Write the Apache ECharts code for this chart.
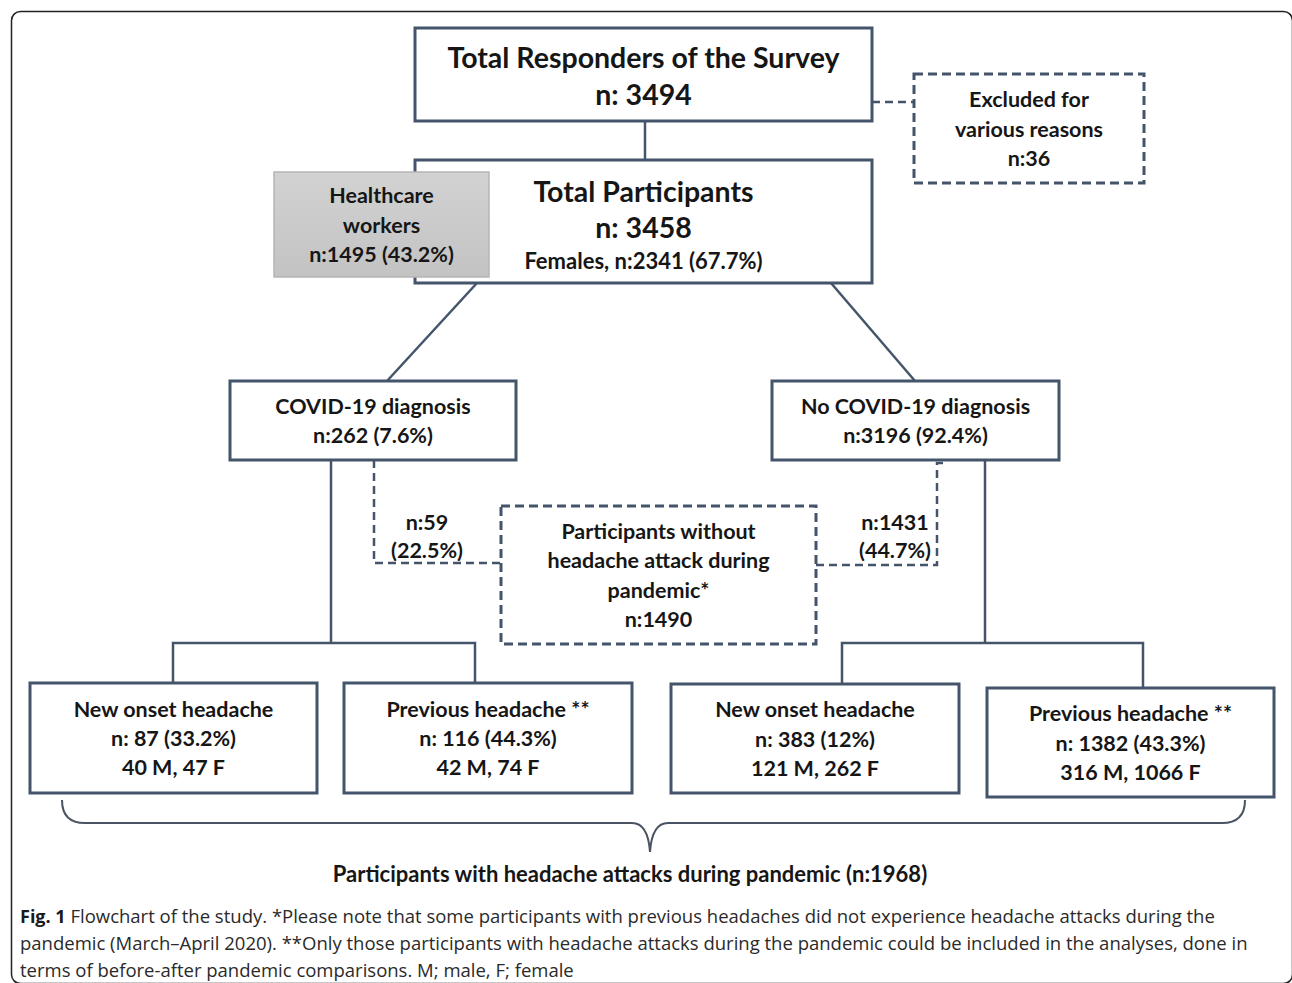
<!DOCTYPE html>
<html>
<head>
<meta charset="utf-8">
<title>Flowchart of the study</title>
<script src="https://cdn.jsdelivr.net/npm/echarts@6/dist/echarts.min.js"></script>
<style>
  html, body { margin: 0; padding: 0; background: #fff; }
  #main { width: 1292px; height: 983px; }
</style>
</head>
<body>
<div id="main"></div>
<script>
// counts
const responders = 3494
const excluded = 36
const participants = 3458
const females = [2341, '67.7%']
const healthcare = [1495, '43.2%']
const groupNames = ['COVID-19 diagnosis', 'No COVID-19 diagnosis']
const groupN = [262, 3196]
const groupPct = ['7.6%', '92.4%']
const noHeadacheN = [59, 1431]
const noHeadachePct = ['22.5%', '44.7%']
const noHeadacheTotal = 1490
const newOnsetN = [87, 383]
const newOnsetPct = ['33.2%', '12%']
const newOnsetMale = [40, 121]
const newOnsetFemale = [47, 262]
const previousN = [116, 1382]
const previousPct = ['44.3%', '43.3%']
const previousMale = [42, 316]
const previousFemale = [74, 1066]
const withHeadache = 1968

// texts of every box, built from the counts
const boxLabels = [
  ['Total Responders of the Survey', 'n: ' + responders],
  ['Total Participants', 'n: ' + participants, 'Females, n:' + females[0] + ' (' + females[1] + ')'],
  ['Excluded for', 'various reasons', 'n:' + excluded],
  ['Healthcare', 'workers', 'n:' + healthcare[0] + ' (' + healthcare[1] + ')'],
  [groupNames[0], 'n:' + groupN[0] + ' (' + groupPct[0] + ')'],
  [groupNames[1], 'n:' + groupN[1] + ' (' + groupPct[1] + ')'],
  ['Participants without', 'headache attack during', 'pandemic*', 'n:' + noHeadacheTotal],
  ['New onset headache', 'n: ' + newOnsetN[0] + ' (' + newOnsetPct[0] + ')', newOnsetMale[0] + ' M, ' + newOnsetFemale[0] + ' F'],
  ['Previous headache **', 'n: ' + previousN[0] + ' (' + previousPct[0] + ')', previousMale[0] + ' M, ' + previousFemale[0] + ' F'],
  ['New onset headache', 'n: ' + newOnsetN[1] + ' (' + newOnsetPct[1] + ')', newOnsetMale[1] + ' M, ' + newOnsetFemale[1] + ' F'],
  ['Previous headache **', 'n: ' + previousN[1] + ' (' + previousPct[1] + ')', previousMale[1] + ' M, ' + previousFemale[1] + ' F']
]
const linkLabels = [
  ['n:' + noHeadacheN[0], '(' + noHeadachePct[0] + ')'],
  ['n:' + noHeadacheN[1], '(' + noHeadachePct[1] + ')']
]
const braceLabel = 'Participants with headache attacks during pandemic (n:' + withHeadache + ')'

// layout (page units, y downwards)
const boxRects = [
  [415, 28, 872, 121],
  [415, 160, 872, 283],
  [914, 74, 1144, 183],
  [274, 172, 489, 277],
  [230, 381, 516, 460],
  [772, 381, 1059, 460],
  [501, 506, 816, 644],
  [30, 683, 317, 793],
  [344, 683, 632, 793],
  [671, 684, 959, 793],
  [987, 688, 1274, 797]
]
const boxKinds = ['solid', 'solid', 'dashed', 'grey', 'solid', 'solid', 'dashed', 'solid', 'solid', 'solid', 'solid']
const solidPaths = [
  [[645, 121], [645, 160]],
  [[477, 283], [387, 381]],
  [[831, 283], [915, 381]],
  [[331, 460], [331, 643]],
  [[173, 683], [173, 643], [475, 643], [475, 683]],
  [[985, 460], [985, 643]],
  [[842, 684], [842, 643], [1143, 643], [1143, 688]]
]
const dashedPaths = [
  [[872, 102], [914, 102]],
  [[374, 460], [374, 563], [501, 563]],
  [[816, 565], [937, 565], [937, 463], [948, 463]]
]
const linkLabelPos = [[427, 536], [895, 536]]
const bracePoints = [[62, 800], [652, 823], [1245, 800], [650, 852]]

const lineColor = '#44546a'
const textColor = '#161616'
const boxFont = 'Lato, "Open Sans", sans-serif'

const myChart = echarts.init(document.getElementById('main'), null, { renderer: 'svg' })

function textLines (api, cx, cy, lines, sizes, heights, dy) {
  const total = heights.reduce((a, b) => a + b, 0)
  let y = cy - total / 2 + (dy || 0)
  return lines.map(function (t, k) {
    const el = {
      type: 'text',
      z2: 10,
      style: {
        text: t,
        x: cx,
        y: y + heights[k] / 2,
        align: 'center',
        verticalAlign: 'middle',
        fill: textColor,
        font: 'bold ' + sizes[k] + 'px ' + boxFont
      }
    }
    y += heights[k]
    return el
  })
}

const option = {
  animation: false,
  title: {
    left: 15,
    top: 897,
    text: '{b|Fig. 1} Flowchart of the study. *Please note that some participants with previous headaches did not experience headache attacks during the\n' +
      'pandemic (March\u2013April 2020). **Only those participants with headache attacks during the pandemic could be included in the analyses, done in\n' +
      'terms of before-after pandemic comparisons. M; male, F; female',
    textStyle: {
      fontFamily: '"Open Sans", sans-serif',
      fontSize: 18.5,
      fontWeight: 'normal',
      lineHeight: 27,
      color: '#2a2a2a',
      rich: {
        b: { fontFamily: '"Open Sans", sans-serif', fontSize: 18, fontWeight: 'bold', lineHeight: 27, color: '#1a1a1a' }
      }
    }
  },
  graphic: [{
    type: 'rect',
    left: 9,
    top: 9,
    shape: { width: 1281, height: 972, r: 9 },
    style: { fill: 'none', stroke: '#222', lineWidth: 1.5 },
    silent: true
  }],
  grid: { left: 0, right: 0, top: 0, bottom: 0 },
  xAxis: { type: 'value', min: 0, max: 1292, show: false },
  yAxis: { type: 'value', min: 0, max: 983, inverse: true, show: false },
  series: [
    {
      type: 'lines',
      coordinateSystem: 'cartesian2d',
      polyline: true,
      silent: true,
      z: 1,
      lineStyle: { color: lineColor, width: 2.5, opacity: 1 },
      data: solidPaths.map(p => ({ coords: p }))
    },
    {
      type: 'lines',
      coordinateSystem: 'cartesian2d',
      polyline: true,
      silent: true,
      z: 1,
      lineStyle: { color: lineColor, width: 2.5, type: [8, 5], opacity: 1 },
      data: dashedPaths.map(p => ({ coords: p }))
    },
    {
      // boxes
      type: 'custom',
      coordinateSystem: 'cartesian2d',
      silent: true,
      z: 3,
      encode: { x: [0, 2], y: [1, 3] },
      data: boxRects,
      renderItem: function (params, api) {
        const i = params.dataIndex
        const a = api.coord([api.value(0), api.value(1)])
        const b = api.coord([api.value(2), api.value(3)])
        const x = Math.min(a[0], b[0])
        const y = Math.min(a[1], b[1])
        const w = Math.abs(b[0] - a[0])
        const h = Math.abs(b[1] - a[1])
        const kind = boxKinds[i]
        let rectStyle
        if (kind === 'grey') {
          rectStyle = {
            fill: new echarts.graphic.LinearGradient(0, 0, 0, 1, [
              { offset: 0, color: '#d2d2d2' },
              { offset: 1, color: '#c3c3c3' }
            ]),
            stroke: '#b5b5b5',
            lineWidth: 1.5
          }
        } else {
          rectStyle = { fill: '#fff', stroke: lineColor, lineWidth: 3 }
          if (kind === 'dashed') rectStyle.lineDash = [9, 5]
        }
        const lines = boxLabels[i]
        let sizes, heights, dy = 0
        if (i === 0) {
          sizes = [28.5, 28.5]; heights = [37, 37]; dy = 1
        } else if (i === 1) {
          sizes = [28.5, 28.5, 22]; heights = [36, 36, 31]; dy = 3
        } else {
          sizes = lines.map(() => 21.5); heights = lines.map(() => 29.3)
        }
        return {
          type: 'group',
          z2: i,
          children: [{ type: 'rect', z2: i, shape: { x: x, y: y, width: w, height: h }, style: rectStyle }]
            .concat(textLines(api, x + w / 2, y + h / 2, lines, sizes, heights, dy))
        }
      }
    },
    {
      // n:59 / n:1431 labels on the dashed links
      type: 'custom',
      coordinateSystem: 'cartesian2d',
      silent: true,
      z: 4,
      data: linkLabelPos,
      renderItem: function (params, api) {
        const p = api.coord([api.value(0), api.value(1)])
        return {
          type: 'group',
          children: textLines(api, p[0], p[1], linkLabels[params.dataIndex], [21.5, 21.5], [28, 28], 0)
        }
      }
    },
    {
      // curly brace and its caption
      type: 'custom',
      coordinateSystem: 'cartesian2d',
      silent: true,
      z: 2,
      data: [bracePoints[0]],
      renderItem: function (params, api) {
        const L = api.coord(bracePoints[0])
        const M = api.coord(bracePoints[1])
        const R = api.coord(bracePoints[2])
        const T = api.coord(bracePoints[3])
        const r = M[1] - L[1]
        const d = [
          'M', L[0], L[1],
          'Q', L[0], M[1], L[0] + r, M[1],
          'L', T[0] - 18, M[1],
          'Q', T[0] - 2, M[1], T[0], T[1],
          'Q', T[0] + 2, M[1], T[0] + 18, M[1],
          'L', R[0] - r, M[1],
          'Q', R[0], M[1], R[0], R[1]
        ].join(' ')
        return {
          type: 'group',
          children: [
            { type: 'path', shape: { pathData: d }, style: { fill: 'none', stroke: '#4a5363', lineWidth: 2 } },
            {
              type: 'text',
              style: {
                text: braceLabel,
                x: T[0] - 20,
                y: T[1] + 21,
                align: 'center',
                verticalAlign: 'middle',
                fill: textColor,
                font: 'bold 22px ' + boxFont
              }
            }
          ]
        }
      }
    }
  ]
}

myChart.setOption(option)
</script>
</body>
</html>
